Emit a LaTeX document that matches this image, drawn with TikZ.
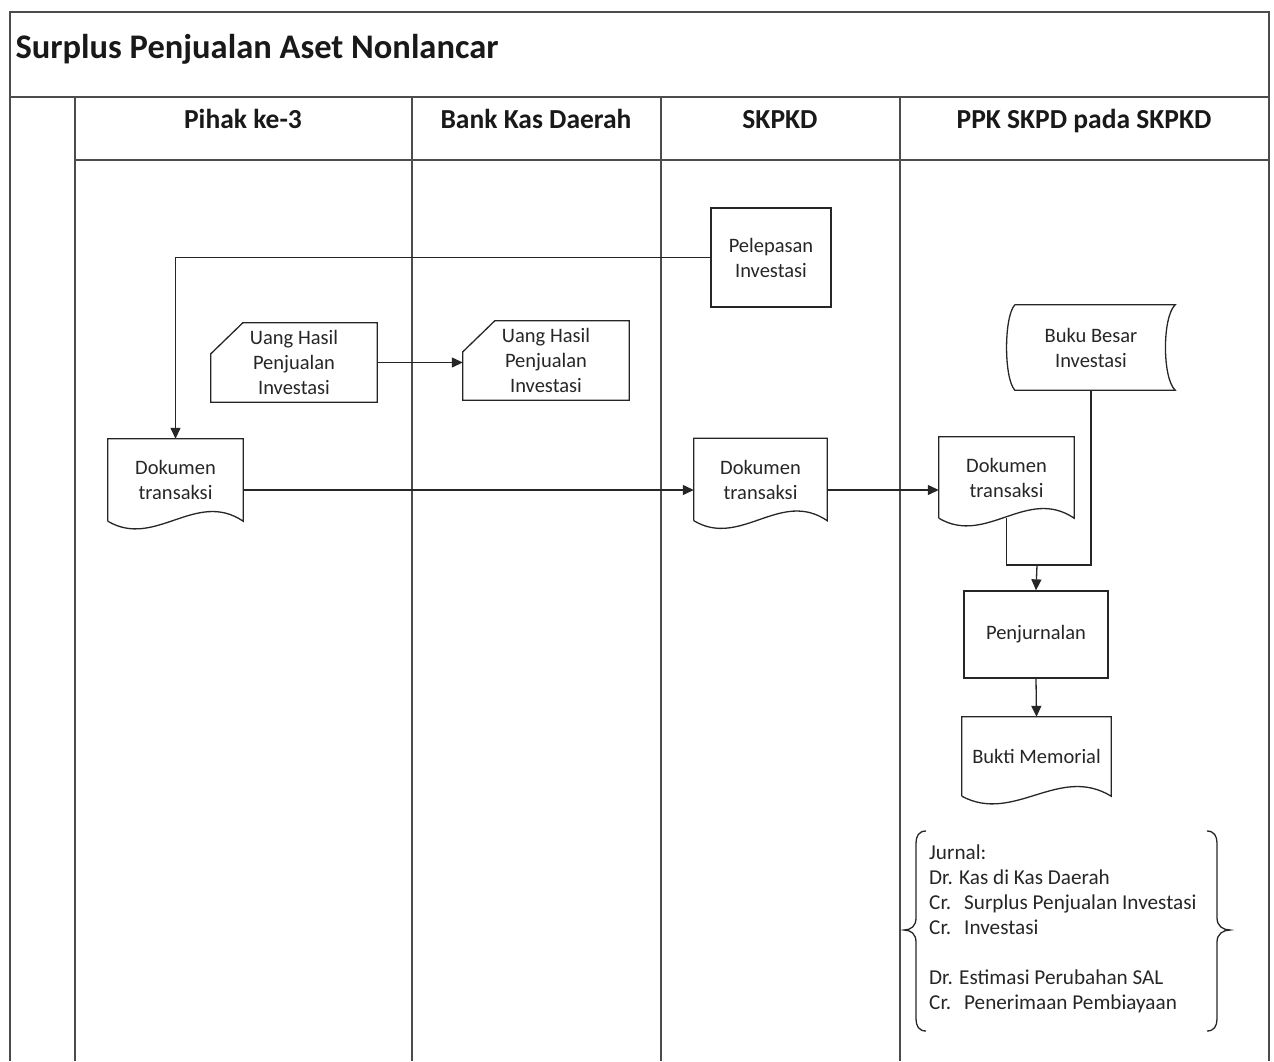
\documentclass[tikz,border=0pt]{standalone}
\usepackage{fontspec}
\setmainfont{Carlito}
\usetikzlibrary{calc,arrows.meta}

% flowchart symbols drawn around a named node
\newcommand\docshape[1]{%
  \draw[ln] (#1.south west) -- (#1.north west) -- (#1.north east) -- (#1.south east)
    .. controls ($(#1.south east)!0.35!(#1.south west)+(0,-32)$)
       and ($(#1.south east)!0.65!(#1.south west)+(0,28)$) .. (#1.south west);}
\newcommand\manualshape[1]{%
  \draw[ln] ($(#1.north west)+(0,31)$) -- ($(#1.north west)+(32,0)$) -- (#1.north east)
    -- (#1.south east) -- (#1.south west) -- cycle;}
\newcommand\storedshape[1]{%
  \draw[ln] ($(#1.north west)+(8,0)$) -- (#1.north east)
    .. controls ($(#1.north east)+(-13,12)$) and ($(#1.south east)+(-13,-12)$) .. (#1.south east)
    -- ($(#1.south west)+(8,0)$)
    .. controls ($(#1.south west)+(-3,-12)$) and ($(#1.north west)+(-3,12)$) .. ($(#1.north west)+(8,0)$);}

\begin{document}
\begin{tikzpicture}[x=1pt,y=-1pt,
  ln/.style={line width=1.3pt, draw=black!85},
  frame/.style={line width=1.8pt, draw=black!70},
  arr/.style={ln, -{Triangle[length=11pt,width=10pt]}},
  body/.style={font=\fontsize{20.5}{25}\selectfont, align=center, inner sep=0pt, text=black!85},
  procbox/.style={body, draw=black!85, line width=1.3pt},
  lanehead/.style={anchor=base, font=\fontsize{27.5}{32}\selectfont\bfseries, text=black!90},
]
\useasboundingbox (0,0) rectangle (1274,1061);

% frame and swimlanes
\draw[frame] (10,1061) -- (10,12) -- (1269,12) -- (1269,1061);
\draw[frame] (10,97) -- (1269,97);
\draw[frame] (75,97) -- (75,1061);
\draw[frame] (75,160) -- (1269,160);
\draw[frame] (412,97) -- (412,1061);
\draw[frame] (661,97) -- (661,1061);
\draw[frame] (900,97) -- (900,1061);

\node[anchor=base west, font=\fontsize{34.5}{40}\selectfont\bfseries, text=black!90] (title) at (12,58) {Surplus Penjualan Aset Nonlancar};
\node[lanehead] (h1) at (243,128) {Pihak ke-3};
\node[lanehead] (h2) at (536,128) {Bank Kas Daerah};
\node[lanehead] (h3) at (780,128) {SKPKD};
\node[lanehead] (h4) at (1084,128) {PPK SKPD pada SKPKD};

% process steps
\node[procbox, minimum width=120pt, minimum height=99pt] (pel) at (771,257.5) {Pelepasan\\Investasi};
\node[body, minimum width=166pt, minimum height=79pt] (uang1) at (294,362.5) {Uang Hasil\\Penjualan\\Investasi};
\manualshape{uang1}
\node[body, minimum width=166pt, minimum height=79pt] (uang2) at (546,360.5) {Uang Hasil\\Penjualan\\Investasi};
\manualshape{uang2}
\node[body, minimum width=168pt, minimum height=85pt] (bbi) at (1091,347.5) {Buku Besar\\Investasi};
\storedshape{bbi}
\node[body, minimum width=135pt, minimum height=82pt] (dok1) at (175.5,480) {Dokumen\\transaksi};
\docshape{dok1}
\node[body, minimum width=133pt, minimum height=82pt] (dok2) at (760.5,479.5) {Dokumen\\transaksi};
\docshape{dok2}
\node[body, minimum width=135pt, minimum height=81pt] (dok3) at (1006.5,477.5) {Dokumen\\transaksi};
\docshape{dok3}
\node[procbox, minimum width=144pt, minimum height=87pt] (pen) at (1036,634.5) {Penjurnalan};
\node[body, minimum width=149pt, minimum height=79pt] (bm) at (1036.5,756.5) {Bukti Memorial};
\docshape{bm}

% journal entry between braces
\node[body, font=\fontsize{21.2}{25}\selectfont, align=left, anchor=north west] (jurnal) at (929,845)
  {Jurnal:\\
   Dr. Kas di Kas Daerah\\
   \makebox[35pt][l]{Cr.}Surplus Penjualan Investasi\\
   \makebox[35pt][l]{Cr.}Investasi\\[25pt]
   Dr. Estimasi Perubahan SAL\\
   \makebox[35pt][l]{Cr.}Penerimaan Pembiayaan};
\draw[ln] (926,831) .. controls (919,831) and (916,836) .. (916,843) -- (916,918)
  .. controls (916,926) and (911,930) .. (904,930)
  .. controls (911,930) and (916,934) .. (916,942) -- (916,1019)
  .. controls (916,1026) and (919,1031) .. (926,1031);
\draw[ln] (1207,831) .. controls (1214,831) and (1217,836) .. (1217,843) -- (1217,918)
  .. controls (1217,926) and (1223,930) .. (1230,930)
  .. controls (1223,930) and (1217,934) .. (1217,942) -- (1217,1019)
  .. controls (1217,1026) and (1214,1031) .. (1207,1031);

% connectors
\coordinate (r1) at (0,490);
\coordinate (j) at (1037,565);
\draw[arr] (pel.west) -| (dok1.north);
\draw[arr] (uang1.east) -- (uang1.east -| uang2.west);
\draw[arr] (dok1.east |- r1) -- (dok2.west |- r1);
\draw[arr] (dok2.east |- r1) -- (dok3.west |- r1);
\draw[ln] (dok3.south) -- (dok3.south |- j) -- (j);
\draw[ln] (bbi.south) -- (bbi.south |- j) -- (j);
\draw[arr] (j) -- (pen.north);
\draw[arr] (pen.south) -- (bm.north);
\end{tikzpicture}
\end{document}
